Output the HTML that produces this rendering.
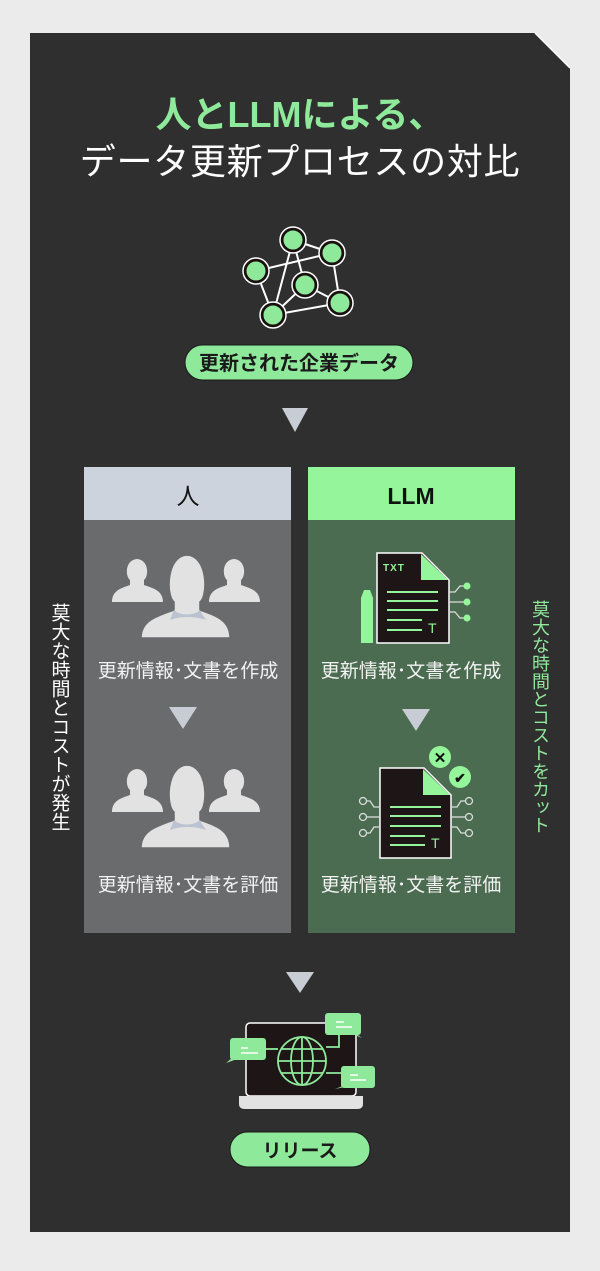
<!DOCTYPE html>
<html><head><meta charset="utf-8"><style>
html,body{margin:0;padding:0;background:#ebebeb;}
body{width:600px;height:1271px;position:relative;overflow:hidden;font-family:"Liberation Sans","Noto Sans CJK JP",sans-serif;}
svg{position:absolute;left:0;top:0;}
</style></head><body>
<svg width="600" height="1271" viewBox="0 0 600 1271" xmlns="http://www.w3.org/2000/svg" font-family="Liberation Sans, Noto Sans CJK JP, sans-serif">
<defs>
<g id="people">
 <path d="M112 812 C112 800 122 798 130 795 L130 790 C125 786 125 770 137 769 C149 770 149 786 144 790 L144 795 C152 798 163 800 163 812 Z" fill="#e2e2e2"/>
 <path d="M209 812 C209 800 219 798 227 795 L227 790 C222 786 222 770 234 769 C246 770 246 786 241 790 L241 795 C249 798 260 800 260 812 Z" fill="#e2e2e2"/>
 <path d="M141 848 C141 830 158 826 174 820 L174 812 C166 806 166 766 187 765 C208 766 208 806 200 812 L200 820 C216 826 230 830 230 848 Z" fill="#e2e2e2" stroke="#6a6b6d" stroke-width="1.5"/>
 <path d="M174 820 C180 826 194 826 200 820 C202 825 205 828 206 830 C195 826 180 826 170 830 Z" fill="#bcc3d0"/>
</g>
</defs>
<path d="M30 33 L535 33 L570 68 L570 1232 L30 1232 Z" fill="#2f2f2f"/>
<path d="M535 33 L570 68" stroke="#fff" stroke-width="1.5"/>
<text x="300" y="127" text-anchor="middle" font-size="36" font-weight="bold" fill="#8fe99a">人とLLMによる、</text>
<text x="300" y="174" text-anchor="middle" font-size="36" letter-spacing="0.7" fill="#ffffff">データ更新プロセスの対比</text>
<g stroke="#fff" stroke-width="2" fill="none">
<line x1="293" y1="240" x2="332" y2="253"/><line x1="293" y1="240" x2="305" y2="285"/><line x1="293" y1="240" x2="273" y2="315"/>
<line x1="256" y1="271" x2="332" y2="253"/><line x1="256" y1="271" x2="273" y2="315"/>
<line x1="332" y1="253" x2="340" y2="303"/><line x1="305" y1="285" x2="340" y2="303"/><line x1="305" y1="285" x2="273" y2="315"/>
<line x1="273" y1="315" x2="340" y2="303"/>
</g>
<g fill="#8fe99a" stroke="#1a1010" stroke-width="3">
<circle cx="293" cy="240" r="11"/><circle cx="332" cy="253" r="11"/><circle cx="256" cy="271" r="11"/>
<circle cx="305" cy="285" r="11"/><circle cx="340" cy="303" r="11"/><circle cx="273" cy="315" r="11"/>
</g>
<g fill="none" stroke="#fff" stroke-width="1.5">
<circle cx="293" cy="240" r="13"/><circle cx="332" cy="253" r="13"/><circle cx="256" cy="271" r="13"/>
<circle cx="305" cy="285" r="13"/><circle cx="340" cy="303" r="13"/><circle cx="273" cy="315" r="13"/>
</g>
<rect x="185" y="345" width="228" height="35" rx="17.5" fill="#8fe99a" stroke="#1a1a1a" stroke-width="1"/>
<text x="299" y="370" text-anchor="middle" font-size="20" font-weight="bold" fill="#1a1a1a">更新された企業データ</text>
<path d="M282 408 L308 408 L295 432 Z" fill="#c8ccd4"/>
<rect x="84" y="467" width="207" height="466" fill="#6a6b6d"/>
<rect x="84" y="467" width="207" height="53" fill="#cdd3dc"/>
<text x="188" y="504" text-anchor="middle" font-size="23" fill="#111">人</text>
<rect x="308" y="467" width="207" height="466" fill="#4b6c50"/>
<rect x="308" y="467" width="207" height="53" fill="#95f59a"/>
<text x="411" y="504" text-anchor="middle" font-size="23" font-weight="bold" fill="#111">LLM</text>
<use href="#people" transform="translate(0,-210)"/>
<use href="#people"/>
<g font-size="19" fill="#f2f2f2" text-anchor="middle">
<text x="188" y="677">更新情報･文書を作成</text>
<text x="188" y="891">更新情報･文書を評価</text>
<text x="411" y="677">更新情報･文書を作成</text>
<text x="411" y="891">更新情報･文書を評価</text>
</g>
<path d="M169 707 L197 707 L183 729 Z" fill="#c8ccd4"/>
<path d="M402 709 L430 709 L416 731 Z" fill="#c8ccd4"/>
<path d="M377 553 L422 553 L449 580 L449 643 L377 643 Z" fill="#1e1616" stroke="#fff" stroke-width="1.5"/>
<path d="M421 554 L448 580 L421 580 Z" fill="#95f59a"/>
<text x="383" y="571" font-size="10" font-weight="bold" fill="#95f59a" letter-spacing="1">TXT</text>
<g stroke="#95f59a" stroke-width="2">
<line x1="387" y1="592" x2="438" y2="592"/><line x1="387" y1="601" x2="438" y2="601"/><line x1="387" y1="610" x2="438" y2="610"/>
<line x1="387" y1="620" x2="422" y2="620"/><line x1="387" y1="630" x2="422" y2="630"/>
</g>
<text x="428" y="633" font-size="14" fill="#95f59a">T</text>
<path d="M361 643 L361 598 L364 590 L370 590 L373 598 L373 643 Z" fill="#95f59a"/>
<g stroke="#ddd" stroke-width="1.3" fill="none"><path d="M449 592 L455 592 L460 586 L466 586"/><path d="M449 602 L466 602"/><path d="M449 612 L455 612 L460 618 L466 618"/></g>
<g fill="#95f59a"><circle cx="467" cy="586" r="3.5"/><circle cx="467" cy="602" r="3.5"/><circle cx="467" cy="618" r="3.5"/></g>
<path d="M380 768 L424 768 L451 795 L451 858 L380 858 Z" fill="#1e1616" stroke="#fff" stroke-width="1.5"/>
<path d="M423 769 L450 795 L423 795 Z" fill="#95f59a"/>
<g stroke="#95f59a" stroke-width="2">
<line x1="390" y1="807" x2="441" y2="807"/><line x1="390" y1="816" x2="441" y2="816"/><line x1="390" y1="826" x2="441" y2="826"/>
<line x1="390" y1="836" x2="425" y2="836"/><line x1="390" y1="845" x2="425" y2="845"/>
</g>
<text x="431" y="848" font-size="14" fill="#95f59a">T</text>
<circle cx="440" cy="757" r="11" fill="#95f59a"/><text x="440" y="763" text-anchor="middle" font-size="15" font-weight="bold" fill="#111">✕</text>
<circle cx="460" cy="777" r="11" fill="#95f59a"/><text x="460" y="783" text-anchor="middle" font-size="14" font-weight="bold" fill="#111">✔</text>
<g stroke="#ddd" stroke-width="1.3" fill="none">
<path d="M380 807 L374 807 L370 801 L366 801"/><path d="M380 817 L366 817"/><path d="M380 827 L374 827 L370 833 L366 833"/>
<path d="M451 807 L457 807 L461 801 L466 801"/><path d="M451 817 L466 817"/><path d="M451 827 L457 827 L461 833 L466 833"/>
<circle cx="363" cy="801" r="3.5"/><circle cx="363" cy="817" r="3.5"/><circle cx="363" cy="833" r="3.5"/>
<circle cx="469" cy="801" r="3.5"/><circle cx="469" cy="817" r="3.5"/><circle cx="469" cy="833" r="3.5"/>
</g>
<text x="59" y="603" font-size="19" fill="#fff" style="writing-mode:vertical-rl" dominant-baseline="central">莫大な時間とコストが発生</text>
<text x="540" y="600" font-size="18" fill="#8fe99a" style="writing-mode:vertical-rl" dominant-baseline="central">莫大な時間とコストをカット</text>
<path d="M286 972 L314 972 L300 993 Z" fill="#c8ccd4"/>
<rect x="246" y="1023" width="110" height="73" rx="4" fill="#1e1616" stroke="#fff" stroke-width="1.5"/>
<path d="M239 1096 L363 1096 L363 1104 Q363 1109 357 1109 L245 1109 Q239 1109 239 1104 Z" fill="#e2e2e2"/>
<g stroke="#8fe99a" stroke-width="1.8" fill="none">
<circle cx="302" cy="1061" r="24"/><ellipse cx="302" cy="1061" rx="11" ry="24"/>
<line x1="302" y1="1037" x2="302" y2="1085"/><line x1="278" y1="1061" x2="326" y2="1061"/>
<line x1="281" y1="1049" x2="323" y2="1049"/><line x1="281" y1="1073" x2="323" y2="1073"/>
<path d="M266 1049 L278 1049"/><path d="M326 1047 L339 1047 L339 1030"/><path d="M326 1073 L345 1073"/>
</g>
<g fill="#8fe99a">
<rect x="230" y="1038" width="36" height="22" rx="3"/><path d="M232 1058 L226 1063 L240 1058 Z"/>
<rect x="325" y="1013" width="36" height="22" rx="3"/><path d="M355 1033 L362 1038 L350 1033 Z"/>
<rect x="341" y="1066" width="34" height="22" rx="3"/><path d="M343 1086 L335 1089 L350 1086 Z"/>
</g>
<g stroke="#fff" stroke-width="1.5"><line x1="241" y1="1048" x2="248" y2="1048"/><line x1="241" y1="1053" x2="258" y2="1053"/>
<line x1="336" y1="1022" x2="344" y2="1022"/><line x1="336" y1="1027" x2="352" y2="1027"/>
<line x1="350" y1="1075" x2="358" y2="1075"/><line x1="350" y1="1080" x2="366" y2="1080"/></g>
<rect x="230" y="1132" width="140" height="35" rx="17.5" fill="#8fe99a" stroke="#1a1a1a" stroke-width="1"/>
<text x="300" y="1157" text-anchor="middle" font-size="19" font-weight="bold" fill="#1a1a1a">リリース</text>
</svg>
</body></html>
